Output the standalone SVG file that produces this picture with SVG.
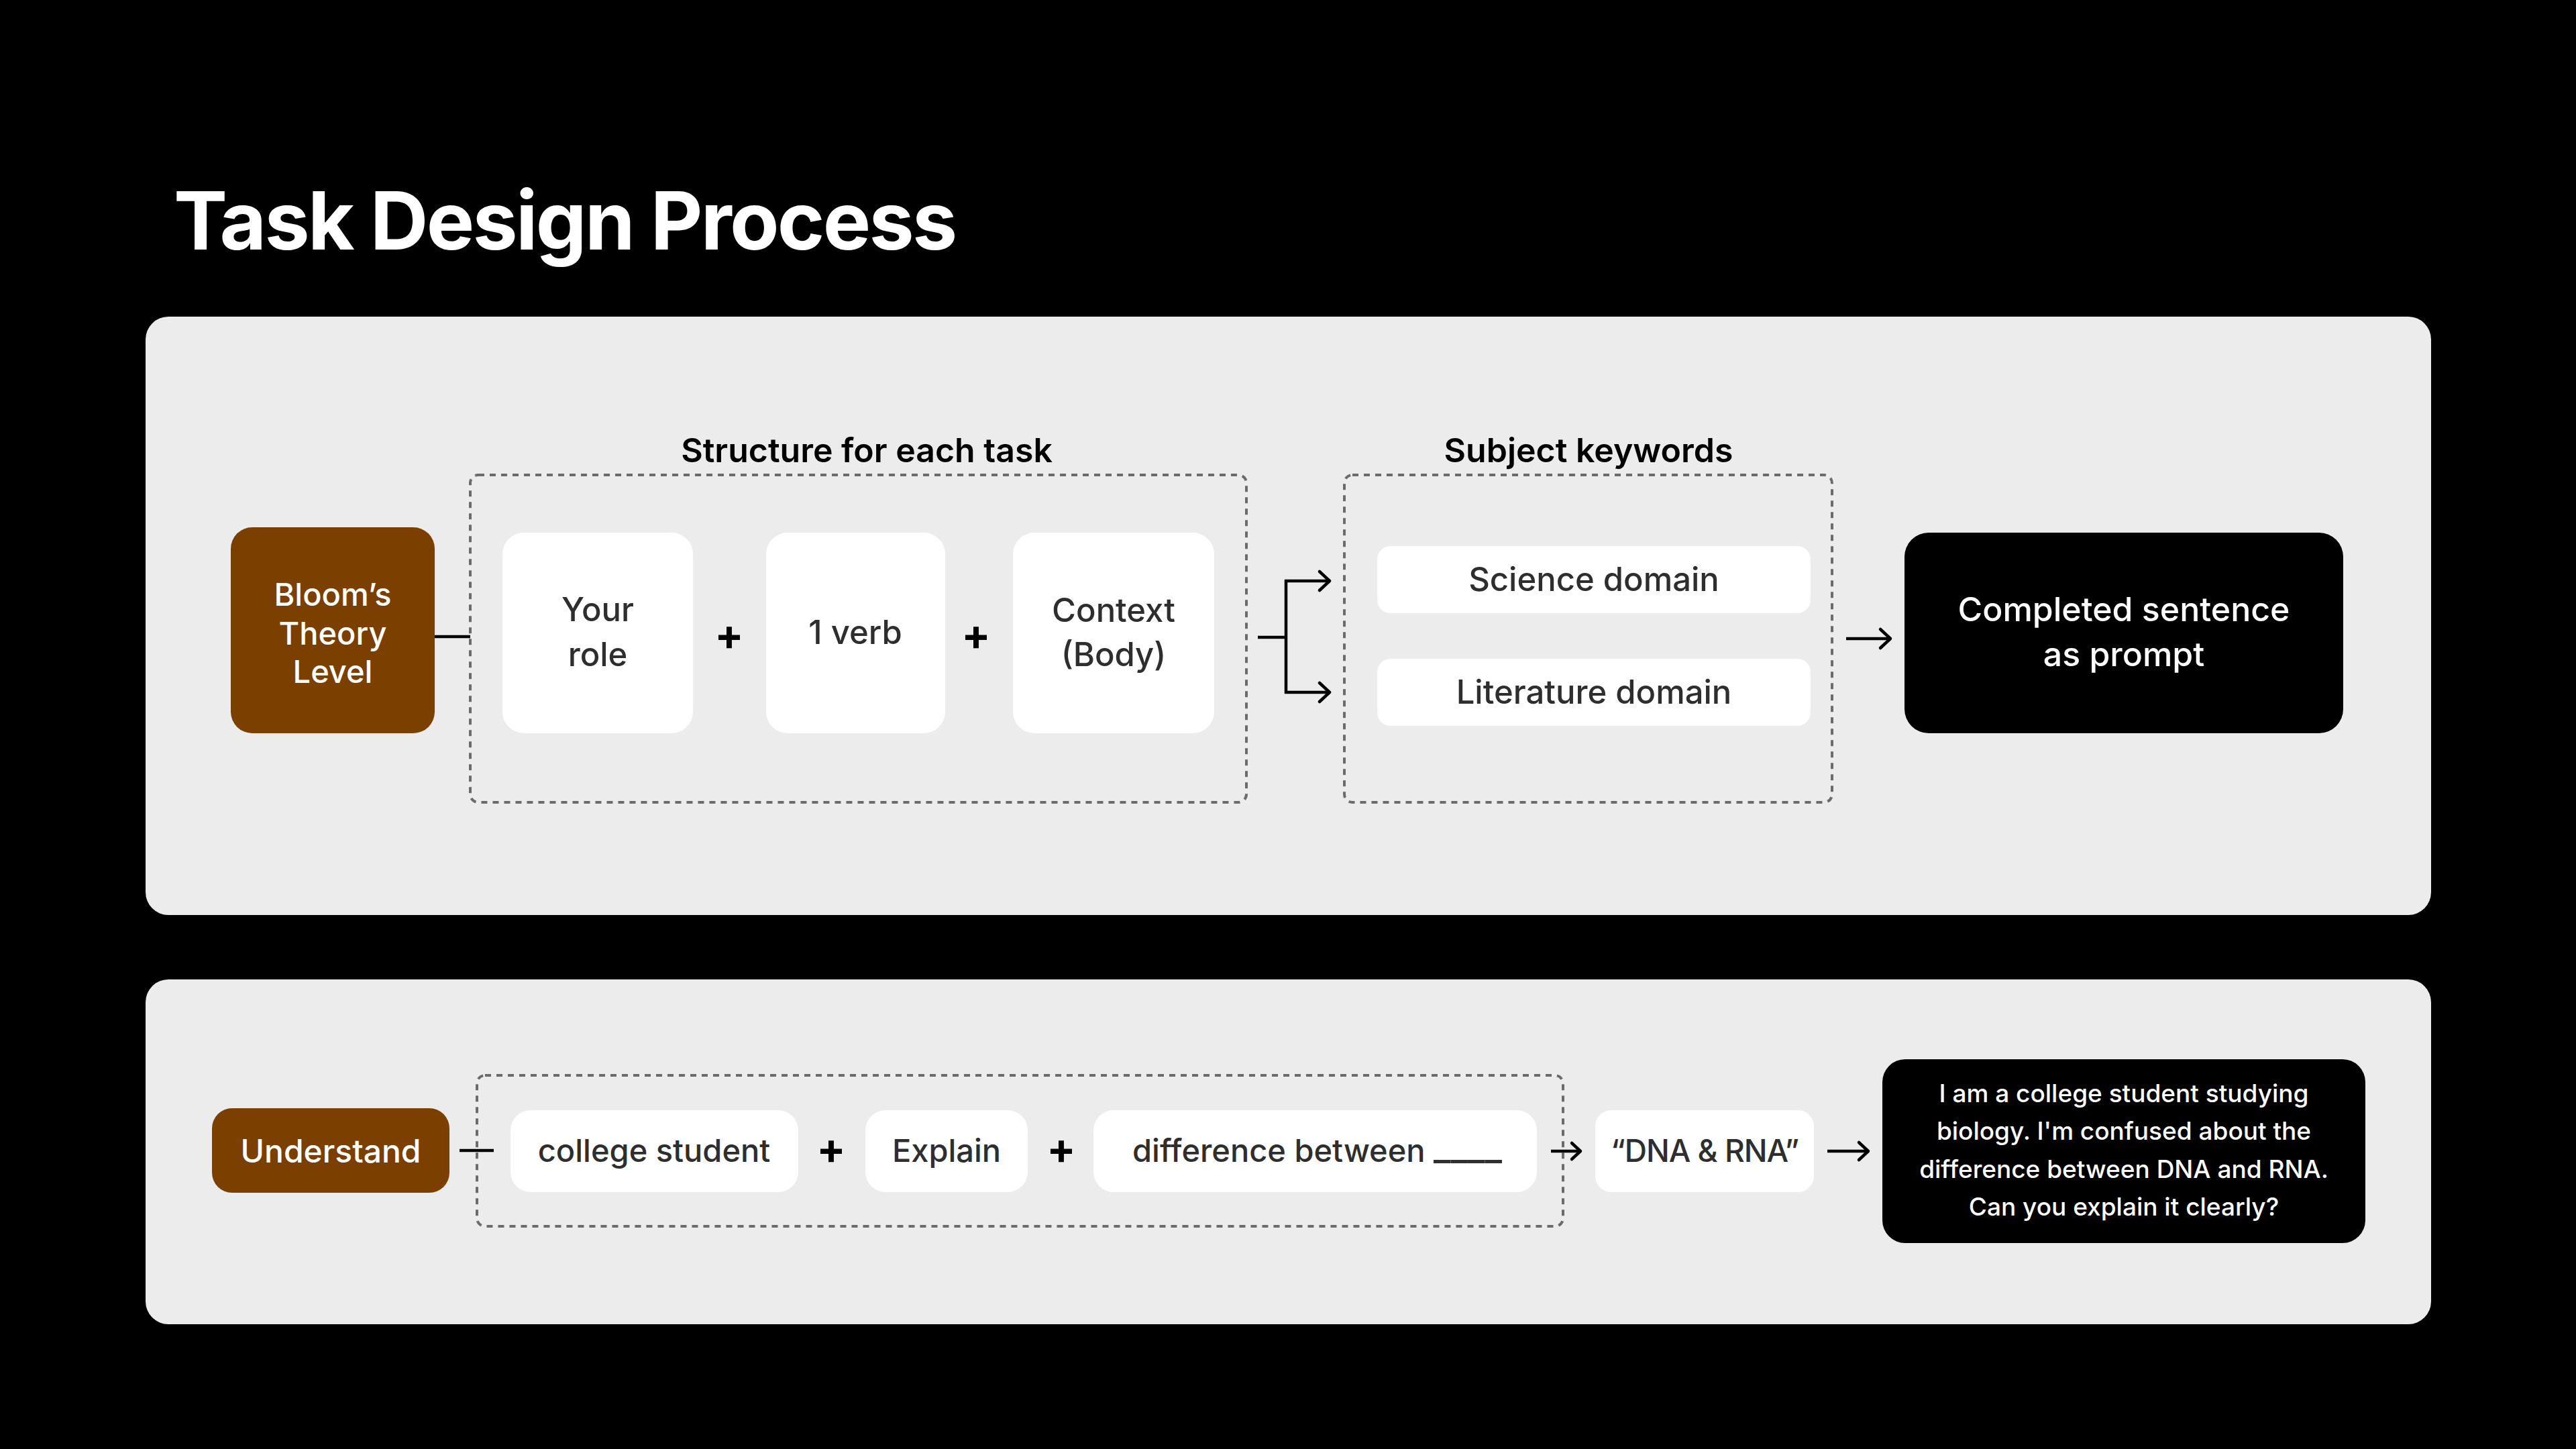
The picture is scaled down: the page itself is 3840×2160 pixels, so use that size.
<svg xmlns="http://www.w3.org/2000/svg" width="3840" height="2160" viewBox="0 0 3840 2160">
<defs>
<style>
text{font-family:Inter,"Noto Sans","Liberation Sans",sans-serif;}
.panel{fill:#ececec;}
.dash{fill:none;stroke:#6b6b6b;stroke-width:4;stroke-dasharray:9 8;}
.white{fill:#ffffff;}
.brown{fill:#7b3f00;}
.black{fill:#000000;}
.t-w{fill:#ffffff;font-weight:500;text-anchor:middle;}
.t-d{fill:#2e2e2e;font-weight:500;text-anchor:middle;}
.t-h{fill:#000000;font-weight:600;text-anchor:middle;font-size:50px;}
.plus{fill:#000000;font-weight:700;text-anchor:middle;font-size:64px;}
.ln{fill:none;stroke:#000;stroke-width:4.5;stroke-linecap:butt;stroke-linejoin:miter;}
.hd{fill:none;stroke:#000;stroke-width:4.5;stroke-linecap:round;stroke-linejoin:round;}
</style>
</defs>
<rect x="0" y="0" width="3840" height="2160" fill="#000"/>
<text id="title" x="259" y="372" font-size="120" font-weight="700" fill="#fff" letter-spacing="-2.7">Task Design Process</text>

<rect class="panel" x="217" y="472" width="3407" height="892" rx="34"/>
<rect class="panel" x="217" y="1460" width="3407" height="514" rx="34"/>

<!-- Top row -->
<g id="bloom">
<rect class="brown" x="344" y="786" width="304" height="307" rx="32"/>
<text class="t-w" font-size="47" x="496"><tspan x="496" y="903">Bloom’s</tspan><tspan x="496" y="961">Theory</tspan><tspan x="496" y="1018">Level</tspan></text>
</g>
<g id="structure">
<text class="t-h" x="1292" y="689">Structure for each task</text>
<rect class="dash" x="701" y="708" width="1157" height="488" rx="12"/>
</g>
<g id="your-role">
<rect class="white" x="749" y="794" width="284" height="299" rx="32"/>
<text class="t-d" font-size="49"><tspan x="891" y="926">Your</tspan><tspan x="891" y="993">role</tspan></text>
</g>
<text class="plus" x="1087" y="969">+</text>
<g id="verb">
<rect class="white" x="1142" y="794" width="267" height="299" rx="32"/>
<text class="t-d" font-size="49" x="1275" y="960">1 verb</text>
</g>
<text class="plus" x="1455" y="969">+</text>
<g id="context">
<rect class="white" x="1510" y="794" width="300" height="299" rx="32"/>
<text class="t-d" font-size="49"><tspan x="1660" y="927">Context</tspan><tspan x="1660" y="993">(Body)</tspan></text>
</g>
<g id="subject">
<text class="t-h" x="2368" y="689">Subject keywords</text>
<rect class="dash" x="2004" y="708" width="727" height="488" rx="12"/>
</g>
<g id="science">
<rect class="white" x="2053" y="814" width="646" height="100" rx="20"/>
<text class="t-d" font-size="49" x="2376" y="881">Science domain</text>
</g>
<g id="literature">
<rect class="white" x="2053" y="982" width="646" height="100" rx="20"/>
<text class="t-d" font-size="49" x="2376" y="1049">Literature domain</text>
</g>
<g id="completed">
<rect class="black" x="2839" y="794" width="654" height="299" rx="36"/>
<text class="t-w" font-size="50" font-weight="600"><tspan x="3166" y="926">Completed sentence</tspan><tspan x="3166" y="993">as prompt</tspan></text>
</g>

<!-- Bottom row -->
<g id="understand">
<rect class="brown" x="316" y="1652" width="354" height="126" rx="30"/>
<text class="t-w" font-size="48" x="493" y="1733">Understand</text>
</g>
<g id="example-structure">
<rect class="dash" x="711" y="1603" width="1619" height="225" rx="12"/>
</g>
<g id="college">
<rect class="white" x="761" y="1655" width="429" height="122" rx="30"/>
<text class="t-d" font-size="47" x="975" y="1732">college student</text>
</g>
<text class="plus" x="1239" y="1735">+</text>
<g id="explain">
<rect class="white" x="1290" y="1655" width="242" height="122" rx="30"/>
<text class="t-d" font-size="47" x="1411" y="1732">Explain</text>
</g>
<text class="plus" x="1582" y="1735">+</text>
<g id="difference">
<rect class="white" x="1630" y="1655" width="661" height="122" rx="30"/>
<text class="t-d" font-size="47" x="1688" y="1732" style="text-anchor:start">difference between <tspan font-size="55" dy="-3">____</tspan></text>
</g>
<g id="dna">
<rect class="white" x="2378" y="1655" width="326" height="122" rx="24"/>
<text class="t-d" font-size="46" x="2541" y="1732" letter-spacing="-1">“DNA &amp; RNA”</text>
</g>
<g id="prompt">
<rect class="black" x="2806" y="1579" width="720" height="274" rx="34"/>
<text class="t-w" font-size="37" font-weight="400"><tspan x="3166" y="1643">I am a college student studying</tspan><tspan x="3166" y="1699">biology. I'm confused about the</tspan><tspan x="3166" y="1756">difference between DNA and RNA.</tspan><tspan x="3166" y="1812">Can you explain it clearly?</tspan></text>
</g>

<g id="connectors">
<line class="ln" x1="648" y1="949" x2="701" y2="949"/>
<path class="ln" d="M1875 950 H1917 M1917 864 V1034 M1915 866 H1982 M1915 1032 H1982"/>
<path class="hd" d="M1967 852 L1982 866 L1967 880 M1967 1018 L1982 1032 L1967 1046"/>
<path class="ln" d="M2752 952 H2818"/>
<path class="hd" d="M2803 938 L2818 952 L2803 966"/>
<line class="ln" x1="685" y1="1715" x2="736" y2="1715"/>
<path class="ln" d="M2312 1716 H2356"/>
<path class="hd" d="M2343 1704 L2356 1716 L2343 1728"/>
<path class="ln" d="M2724 1716 H2785"/>
<path class="hd" d="M2771 1703 L2785 1716 L2771 1729"/>
</g>
</svg>
